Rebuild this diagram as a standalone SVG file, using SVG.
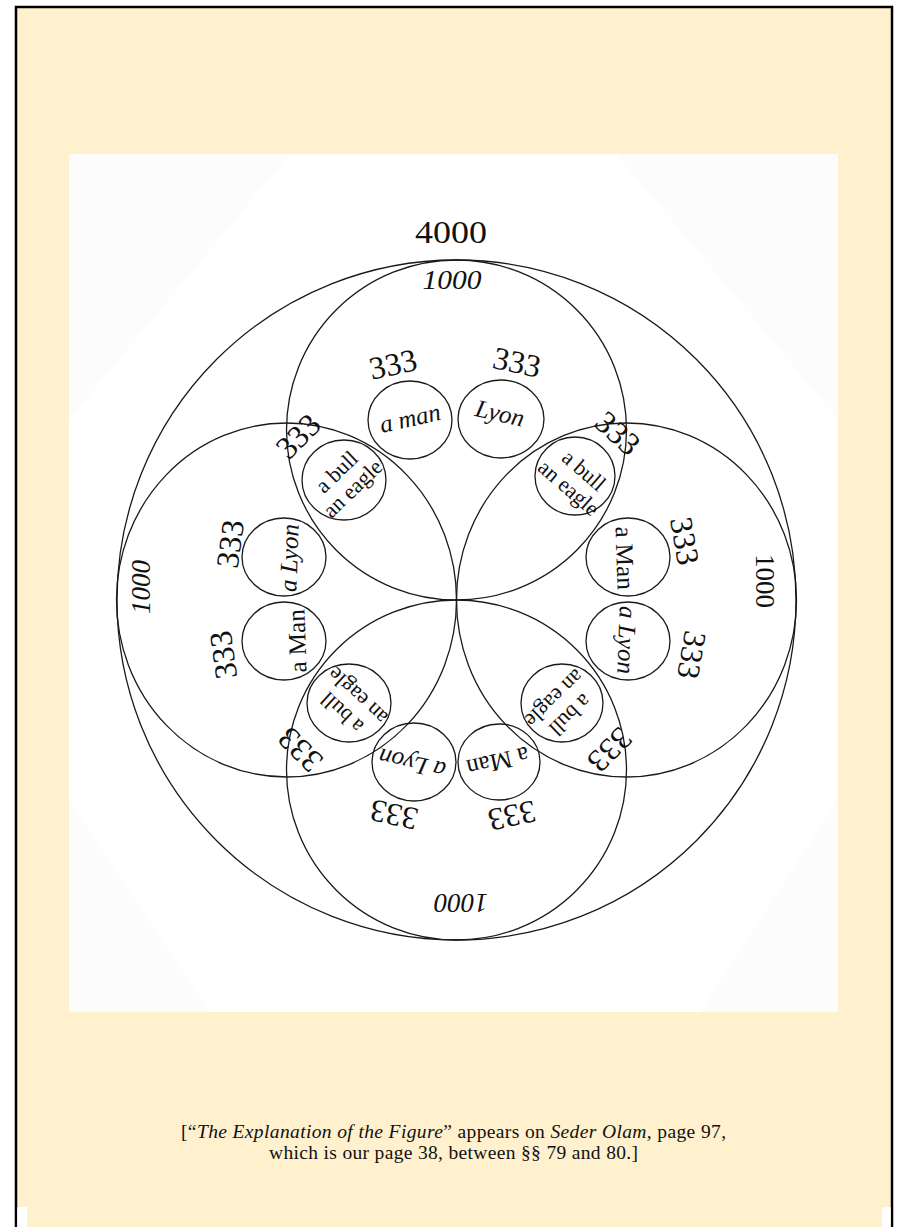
<svg xmlns="http://www.w3.org/2000/svg" width="899" height="1227" viewBox="0 0 899 1227">
<style>
.c{fill:none;stroke:#1a1a1a;stroke-width:1.3}
.n{font-family:"Liberation Serif",serif;font-size:32px;fill:#111;text-anchor:middle;dominant-baseline:central}
.k{font-family:"Liberation Serif",serif;font-size:27px;font-style:italic;fill:#111;text-anchor:middle;dominant-baseline:central}
.l{font-family:"Liberation Serif",serif;font-size:25px;fill:#111;text-anchor:middle;dominant-baseline:central}
.i{font-style:italic}
.b{font-family:"Liberation Serif",serif;font-size:22px;fill:#111;text-anchor:middle;dominant-baseline:central}
.cap{font-family:"Liberation Serif",serif;font-size:19.5px;fill:#111;text-anchor:middle}
</style>
<rect x="0" y="0" width="899" height="1227" fill="#fff"/>
<rect x="16" y="7" width="876" height="1240" fill="#FFF0CE" stroke="#000" stroke-width="2.5"/>
<rect x="17.3" y="1207" width="10" height="20" fill="#fff"/>
<rect x="882" y="1207" width="8.7" height="20" fill="#fff"/>
<rect x="69" y="154" width="769" height="858" fill="#FCFCFC"/>
<polygon points="290,154 616,154 838,420 838,800 700,1012 210,1012 69,800 69,420" fill="#fff"/>

<g id="outer"><ellipse class="c" cx="456.5" cy="600" rx="339.5" ry="340"/><text class="n" x="451" y="232" textLength="72" lengthAdjust="spacingAndGlyphs" font-size="26">4000</text></g>

<g id="top"><circle class="c" cx="456.5" cy="430" r="170"/>
<text class="k" x="452" y="280" textLength="59" lengthAdjust="spacingAndGlyphs">1000</text>
<text class="n" transform="translate(393,364) rotate(-12)">333</text>
<text class="n" transform="translate(517,362) rotate(12)">333</text></g>
<g id="left"><ellipse class="c" cx="286.5" cy="600" rx="170" ry="177"/>
<text class="k" transform="translate(141,587) rotate(-90)">1000</text>
<text class="n" transform="translate(230,544) rotate(-82)">333</text>
<text class="n" transform="translate(223,655) rotate(-98)">333</text></g>
<g id="right"><ellipse class="c" cx="626.5" cy="600" rx="170" ry="177"/>
<text class="k" style="font-style:normal" transform="translate(765,581) rotate(90)">1000</text>
<text class="n" transform="translate(685,541) rotate(80)">333</text>
<text class="n" transform="translate(692,655) rotate(100)">333</text></g>
<g id="bottom"><circle class="c" cx="456.5" cy="770" r="170"/>
<text class="k" transform="translate(461,903) rotate(180)">1000</text>
<text class="n" transform="translate(394,815) rotate(192)">333</text>
<text class="n" transform="translate(512,816) rotate(168)">333</text></g>

<g id="corner-333">
<text class="n" transform="translate(298,436) rotate(-45)">333</text>
<text class="n" transform="translate(618,433) rotate(42)">333</text>
<text class="n" transform="translate(300,750) rotate(-135)">333</text>
<text class="n" transform="translate(610,750) rotate(135)">333</text>
</g>

<g id="a-man-top"><ellipse class="c" cx="410" cy="420" rx="42" ry="39"/><text class="l i" transform="translate(410,418) rotate(-12.5)">a man</text></g>
<g id="lyon-top"><ellipse class="c" cx="501" cy="419" rx="43" ry="39"/><text class="l i" transform="translate(500,413) rotate(13)">Lyon</text></g>
<g id="a-lyon-left"><ellipse class="c" cx="284" cy="557" rx="42" ry="39"/><text class="l i" transform="translate(289,558) rotate(-88)">a Lyon</text></g>
<g id="a-man-left"><ellipse class="c" cx="284" cy="641" rx="42" ry="39"/><text class="l" transform="translate(297,641) rotate(-92)">a Man</text></g>
<g id="a-man-right"><ellipse class="c" cx="628" cy="557" rx="42" ry="39"/><text class="l" transform="translate(625,558) rotate(88)">a Man</text></g>
<g id="a-lyon-right"><ellipse class="c" cx="628" cy="641" rx="42" ry="39"/><text class="l i" transform="translate(627,640) rotate(92)">a Lyon</text></g>
<g id="a-lyon-bottom"><ellipse class="c" cx="414" cy="762" rx="42" ry="39"/><text class="l i" transform="translate(412,764) rotate(193)">a Lyon</text></g>
<g id="a-man-bottom"><ellipse class="c" cx="499" cy="762" rx="41" ry="38"/><text class="l" transform="translate(498,762) rotate(167)">a Man</text></g>

<g id="bull-tl"><ellipse class="c" cx="344" cy="480" rx="42" ry="40"/><g transform="translate(344.5,480) rotate(-44)"><text class="b" y="-11.5">a bull</text><text class="b" y="11.5">an eagle</text></g></g>
<g id="bull-tr"><ellipse class="c" cx="575" cy="476" rx="40" ry="39"/><g transform="translate(576.5,479) rotate(41)"><text class="b" y="-11.5">a bull</text><text class="b" y="11.5">an eagle</text></g></g>
<g id="bull-bl"><ellipse class="c" cx="349" cy="703" rx="42" ry="39"/><g transform="translate(349.5,704.5) rotate(-137)"><text class="b" y="-11.5">a bull</text><text class="b" y="11.5">an eagle</text></g></g>
<g id="bull-br"><ellipse class="c" cx="562" cy="703" rx="41" ry="39"/><g transform="translate(562.5,707) rotate(136)"><text class="b" y="-11.5">a bull</text><text class="b" y="11.5">an eagle</text></g></g>

<g id="caption">
<text class="cap" x="453.5" y="1138" textLength="545" lengthAdjust="spacing">[“<tspan font-style="italic">The Explanation of the Figure</tspan>” appears on <tspan font-style="italic">Seder Olam,</tspan> page 97,</text>
<text class="cap" x="453.5" y="1159" textLength="369" lengthAdjust="spacing">which is our page 38, between §§ 79 and 80.]</text>
</g>
</svg>
